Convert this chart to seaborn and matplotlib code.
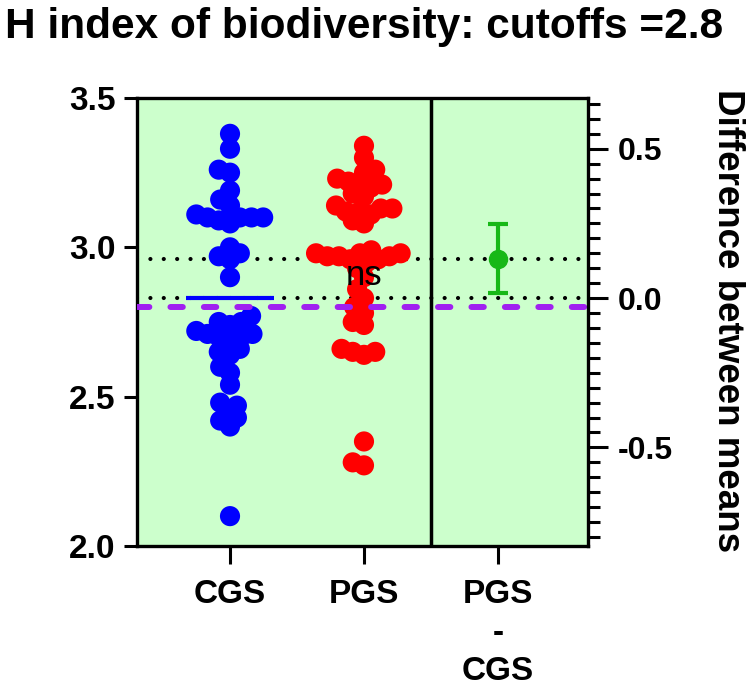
import numpy as np
import pandas as pd
import matplotlib
matplotlib.use("Agg")
import matplotlib.pyplot as plt
import seaborn as sns
from matplotlib.ticker import FixedLocator, MultipleLocator

# ---------------- data ----------------
title = "H index of biodiversity: cutoffs =2.8"
categories = ["CGS", "PGS"]
tick_labels = ["CGS", "PGS", "PGS\n-\nCGS"]
right_label = "Difference between means"

cgs_values = [3.38, 3.33, 3.26, 3.25, 3.19, 3.16, 3.14, 3.11, 3.10, 3.10, 3.10, 3.10,
              3.09, 3.08, 3.00, 2.98, 2.97, 2.96, 2.90, 2.77, 2.75, 2.75, 2.74, 2.72,
              2.71, 2.71, 2.70, 2.70, 2.69, 2.66, 2.65, 2.64, 2.60, 2.58, 2.54, 2.48,
              2.47, 2.45, 2.43, 2.42, 2.40, 2.10]
pgs_values = [3.34, 3.30, 3.26, 3.25, 3.23, 3.22, 3.21, 3.21, 3.20, 3.18, 3.17, 3.14,
              3.13, 3.13, 3.12, 3.12, 3.11, 3.09, 3.08, 2.99, 2.98, 2.98, 2.98, 2.97,
              2.97, 2.97, 2.96, 2.96, 2.95, 2.93, 2.90, 2.86, 2.83, 2.80, 2.78, 2.75,
              2.74, 2.66, 2.65, 2.65, 2.64, 2.35, 2.28, 2.27]
diff_ci = [0.018, 0.247]
cutoff = 2.8
left_ticks = [2.0, 2.5, 3.0, 3.5]
right_ticks = [-0.5, 0.0, 0.5]
ns_text = "ns"

# ---------------- style ----------------
sns.set_theme(style="ticks")
plt.rcParams["font.family"] = ["Liberation Sans", "DejaVu Sans"]
plt.rcParams["axes.edgecolor"] = "black"

BG = "#CCFFCC"
BLUE = "#0000FF"
RED = "#FF0000"
GREEN = "#17B817"
PURPLE = "#A020F0"

fig = plt.figure(figsize=(7.5, 6.9), dpi=100)
ax = fig.add_axes([0.1827, 0.2087, 0.6013, 0.6493])
ax.set_facecolor(BG)

df = pd.DataFrame({
    "group": ["CGS"] * len(cgs_values) + ["PGS"] * len(pgs_values),
    "value": cgs_values + pgs_values,
})

ylim = (2.0, 3.5)
xlim = (-0.694, 2.672)

sns.swarmplot(data=df, x="group", y="value", hue="group", order=categories,
              palette={"CGS": BLUE, "PGS": RED}, size=8.0, linewidth=0,
              legend=False, ax=ax, zorder=3, warn_thresh=1.0)
ax.set_xlim(*xlim)
ax.set_ylim(*ylim)

# compute swarm layout, then freeze and enlarge markers (overlap like reference)
fig.canvas.draw()
for coll in ax.collections:
    if "draw" in coll.__dict__:
        del coll.draw
    coll.set_sizes([14.5 ** 2])

means = [float(np.mean(cgs_values)), float(np.mean(pgs_values))]
colors = [BLUE, RED]

for i, (m, c) in enumerate(zip(means, colors)):
    ax.hlines(m, i - 0.33, i + 0.33, color=c, lw=3, zorder=2)
    ax.axhline(m, color="black", lw=3.0, linestyle=(0, (0.01, 3.2)),
               dash_capstyle="round", zorder=1.5)

ax.axhline(cutoff, color=PURPLE, lw=4.3, linestyle=(0, (2.07, 3.53)),
           dash_capstyle="round", zorder=6)
ax.axvline(1.5, color="black", lw=2.5, zorder=4)

ax.text(1, 2.905, ns_text, ha="center", va="center", fontsize=25, color="black", zorder=7)

# left axis styling
ax.set_xlabel("")
ax.set_ylabel("")
ax.yaxis.set_major_locator(FixedLocator(left_ticks))
ax.set_yticklabels([f"{v:.1f}" for v in left_ticks], fontweight="bold", fontsize=24)
ax.set_xticks([0, 1, 2])
ax.set_xticklabels(tick_labels, fontweight="bold", fontsize=24, linespacing=1.3)
ax.tick_params(axis="y", which="major", length=9.5, width=2.2, pad=6, color="black",
               labelcolor="black", left=True, right=False)
ax.tick_params(axis="x", which="major", length=13, width=2.2, pad=11, color="black",
               labelcolor="black", bottom=True)
for s in ["left", "top", "bottom"]:
    ax.spines[s].set_visible(True)
    ax.spines[s].set_linewidth(2.4)
    ax.spines[s].set_color("black")
ax.spines["right"].set_visible(False)

# right axis: difference between means
ax2 = ax.twinx()
ax2.set_ylim(ylim[0] - means[0], ylim[1] - means[0])
diff = means[1] - means[0]
ax2.errorbar([2], [diff], yerr=[[diff - diff_ci[0]], [diff_ci[1] - diff]],
             fmt="o", color=GREEN, ms=13, capsize=7, elinewidth=3, capthick=3, zorder=5)
ax2.set_xlim(*xlim)
ax2.yaxis.set_major_locator(FixedLocator(right_ticks))
ax2.yaxis.set_minor_locator(MultipleLocator(0.05))
ax2.set_yticklabels([f"{v:.1f}" for v in right_ticks], fontweight="bold", fontsize=23)
ax2.tick_params(axis="y", which="major", length=14.5, width=2.2, pad=7, color="black",
                labelcolor="black", right=True)
ax2.tick_params(axis="y", which="minor", length=8.6, width=2.2, color="black", right=True)
for s in ["left", "top", "bottom"]:
    ax2.spines[s].set_visible(False)
ax2.spines["right"].set_visible(True)
ax2.spines["right"].set_linewidth(2.4)
ax2.spines["right"].set_color("black")
ax2.set_ylabel("")

fig.text(727 / 750, 0.535, right_label, rotation=270, ha="center", va="center",
         fontsize=26.5, fontweight="bold", color="black")
fig.text(5 / 750, 1 - 27 / 690, title, ha="left", va="center", fontsize=30.5,
         fontweight="bold", color="black")

fig.savefig("out.png", dpi=100)
